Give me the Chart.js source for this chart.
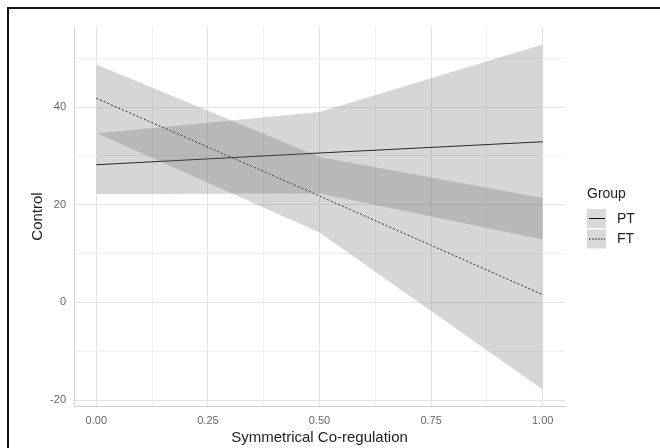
<!DOCTYPE html>
<html>
<head>
<meta charset="utf-8">
<script src="https://cdn.jsdelivr.net/npm/chart.js@4.4.1/dist/chart.umd.min.js"></script>
<style>
  html, body { margin: 0; padding: 0; background: #fff; }
  #wrap { position: relative; width: 660px; height: 448px; overflow: hidden; }
  #frame { position: absolute; left: 7px; top: 7px; width: 700px; height: 500px;
           border-left: 2px solid #111; border-top: 2px solid #111; pointer-events: none; }
</style>
</head>
<body>
<div id="wrap">
  <canvas id="coregChart" width="660" height="448"></canvas>
  <div id="frame"></div>
</div>
<script>
// values
const xValues = [0, 0.5, 1];
const ptFit = [28.2, 30.6, 32.9];
const ptLower = [22.2, 22.3, 12.9];
const ptUpper = [34.6, 39.0, 52.8];
const ftFit = [41.8, 21.8, 1.6];
const ftLower = [34.7, 14.3, -17.8];
const ftUpper = [48.7, 29.8, 21.4];
const groups = ["PT", "FT"];
const xTicks = [0, 0.125, 0.25, 0.375, 0.5, 0.625, 0.75, 0.875, 1];
const yTicks = [-20, -10, 0, 10, 20, 30, 40, 50];

const ribbonFill = "rgba(103,103,103,0.27)";
const font = "'Liberation Sans', Arial, sans-serif";

function pts(ys) {
  return xValues.map((x, i) => ({ x: x, y: ys[i] }));
}

function band(label, ys, fill) {
  return {
    label: label, data: pts(ys), borderWidth: 0, pointRadius: 0,
    backgroundColor: ribbonFill, fill: fill, tension: 0
  };
}

// legend drawn by hand, ggplot style
const groupLegend = {
  id: "groupLegend",
  afterDraw(chart) {
    const ctx = chart.ctx;
    ctx.save();
    ctx.fillStyle = "#222";
    ctx.font = "14px " + font;
    ctx.textBaseline = "middle";
    ctx.textAlign = "left";
    ctx.fillText("Group", 587, 194);
    groups.forEach((g, i) => {
      const y = 209 + i * 20.5;
      ctx.fillStyle = "#d9d9d9";
      ctx.fillRect(587, y, 19, 19);
      ctx.strokeStyle = "#111";
      ctx.lineWidth = 1;
      ctx.setLineDash(i === 0 ? [] : [1.5, 1.5]);
      ctx.beginPath();
      ctx.moveTo(589, y + 9.5);
      ctx.lineTo(605, y + 9.5);
      ctx.stroke();
      ctx.setLineDash([]);
      ctx.fillStyle = "#222";
      ctx.fillText(g, 617, y + 10);
    });
    ctx.restore();
  }
};

const chart = new Chart(document.getElementById("coregChart"), {
  type: "line",
  data: {
    datasets: [
      band("PT upper", ptUpper, "+1"),
      band("PT lower", ptLower, false),
      band("FT upper", ftUpper, "+1"),
      band("FT lower", ftLower, false),
      { label: "PT", data: pts(ptFit), borderColor: "#111", borderWidth: 1.2,
        pointRadius: 0, fill: false },
      { label: "FT", data: pts(ftFit), borderColor: "#111", borderWidth: 1,
        borderDash: [2, 2], pointRadius: 0, fill: false }
    ]
  },
  options: {
    responsive: false,
    animation: false,
    layout: { padding: { top: 27, right: 95, left: 0, bottom: 0 } },
    plugins: { legend: { display: false }, tooltip: { enabled: false } },
    scales: {
      x: {
        type: "linear", min: -0.05, max: 1.05,
        afterBuildTicks: s => { s.ticks = xTicks.map(v => ({ value: v })); },
        afterFit: s => { s.height = 42; },
        ticks: {
          autoSkip: false, maxRotation: 0, padding: 8, color: "#666",
          font: { family: font, size: 11 },
          callback: v => (v * 4) % 1 === 0 ? v.toFixed(2) : ""
        },
        grid: {
          drawTicks: false,
          color: c => (c.tick && (c.tick.value * 4) % 1 === 0) ? "#e4e4e4" : "#f0f0f0"
        },
        border: { display: true, color: "#cfcfcf", width: 1 },
        title: { display: true, text: "Symmetrical Co-regulation", color: "#222",
                 font: { family: font, size: 15 }, padding: { top: 0, bottom: 1 } }
      },
      y: {
        type: "linear", min: -21.2, max: 56.4,
        afterBuildTicks: s => { s.ticks = yTicks.map(v => ({ value: v })); },
        afterFit: s => { s.width = 74; },
        ticks: {
          autoSkip: false, padding: 8, color: "#666",
          font: { family: font, size: 11 },
          callback: v => v % 20 === 0 ? String(v) : ""
        },
        grid: {
          drawTicks: false,
          color: c => (c.tick && c.tick.value % 20 === 0) ? "#e4e4e4" : "#f0f0f0"
        },
        border: { display: true, color: "#cfcfcf", width: 1 },
        title: { display: true, text: "Control", color: "#222",
                 font: { family: font, size: 15 }, padding: { top: 29, bottom: 0 } }
      }
    }
  },
  plugins: [groupLegend]
});
</script>
</body>
</html>
